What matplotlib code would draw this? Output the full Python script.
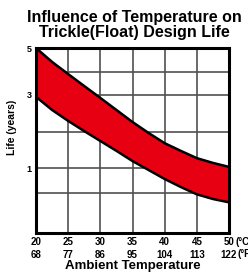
import numpy as np
import matplotlib.pyplot as plt

temps_c = [20, 22.5, 25, 27.5, 30, 32.5, 35, 37.5, 40, 42.5, 45, 47.5, 50]
life_upper = [5.0, 4.42, 3.91, 3.39, 2.92, 2.59, 2.26, 1.96, 1.68, 1.47, 1.27, 1.14, 1.03]
life_lower = [2.95, 2.59, 2.29, 2.01, 1.74, 1.47, 1.19, 0.96, 0.78, 0.62, 0.49, 0.455, 0.43]

tick_c = [20, 25, 30, 35, 40, 45, 50]
tick_f = [68, 77, 86, 95, 104, 113, 122]

# the printed y axis is not evenly spaced, follow its grid
scale_vals = [0.2, 0.5, 1, 2, 3, 4, 5]
scale_pos = [0, 40, 65, 101.5, 138, 161, 185]

def fwd(v):
    return np.interp(v, scale_vals, scale_pos)

def inv(p):
    return np.interp(p, scale_pos, scale_vals)

plt.rcParams['font.family'] = ['Liberation Sans', 'DejaVu Sans']
plt.rcParams['font.weight'] = 'bold'

fig = plt.figure(figsize=(2.48, 2.75), dpi=100)
ax = fig.add_axes([36/248, 1-233/275, (229-36)/248, (233-48)/275])
ax.set_yscale('function', functions=(fwd, inv))
ax.set_ylim(0.2, 5)
ax.set_xlim(20, 50)

ax.fill_between(temps_c, life_lower, life_upper, color='#e60012', lw=0, zorder=2)
ax.plot(temps_c, life_upper, color='black', lw=1.8, zorder=3)
ax.plot(temps_c, life_lower, color='black', lw=1.8, zorder=3)

ax.set_yticks([1, 3, 5])
ax.set_yticklabels(['1', '3', '5'], fontsize=6.5, fontweight='bold')
ax.set_yticks([0.5, 2, 4], minor=True)
ax.set_xticks(tick_c)
ax.set_xticklabels([f'{c}\n{f}' for c, f in zip(tick_c, tick_f)],
                   fontsize=7, fontweight='bold', linespacing=1.35)
ax.tick_params(axis='both', which='both', length=0, pad=3)
ax.grid(True, which='both', color='#505050', lw=1.2, zorder=1)
ax.set_axisbelow(True)
for s in ax.spines.values():
    s.set_linewidth(2.2)
    s.set_color('black')
    s.set_zorder(4)

fig.text(236/248, 1-242/275, '(°C)', fontsize=7, fontweight='bold',
         va='center', ha='left')
fig.text(238/248, 1-254/275, '(°F)', fontsize=7, fontweight='bold',
         va='center', ha='left')

ax.set_ylabel('Life (years)', fontsize=7.5, fontweight='bold')
ax.yaxis.set_label_coords(-0.098, 0.57)
ax.set_xlabel('Ambient Temperature', fontsize=9.5, fontweight='bold', labelpad=0)
fig.text(0.54, 0.965, 'Influence of Temperature on\nTrickle(Float) Design Life',
         ha='center', va='top', fontsize=11.5, fontweight='bold', linespacing=1.0)

fig.savefig('out.png', dpi=100)
